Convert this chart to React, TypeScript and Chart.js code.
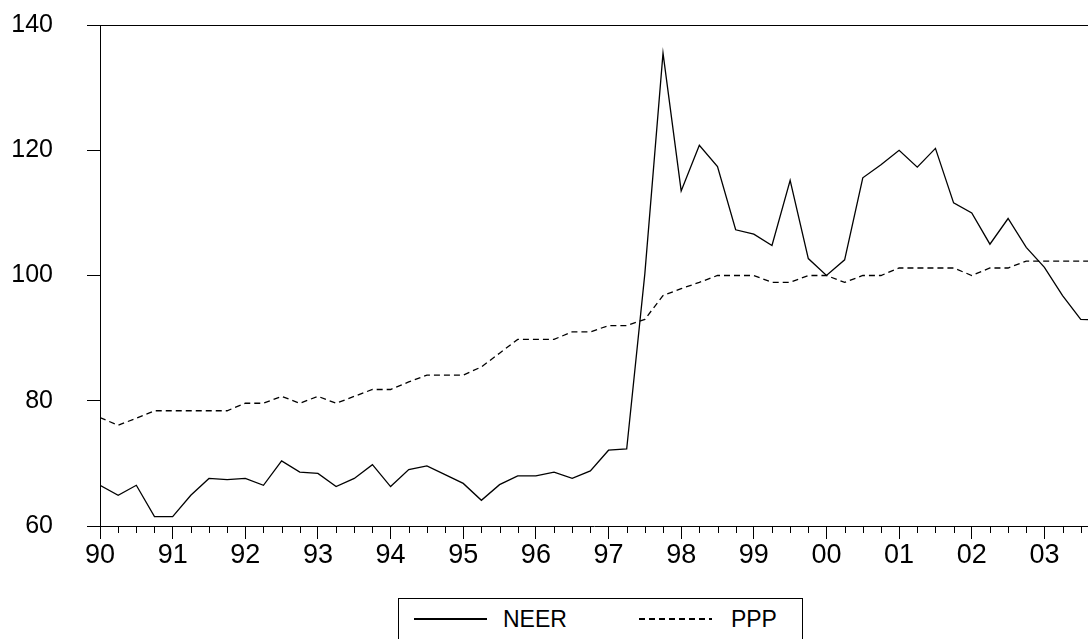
import { Chart, registerables } from "chart.js";
import { useEffect, useRef } from "react";

Chart.register(...registerables);

// quarterly, 1990Q1 .. 2003Q4
const yearLabels = ["90", "91", "92", "93", "94", "95", "96", "97", "98", "99", "00", "01", "02", "03"];
const neer = [
  66.5, 64.9, 66.5, 61.5, 61.5, 64.9, 67.6, 67.4, 67.6, 66.5, 70.4, 68.6, 68.4, 66.3,
  67.6, 69.8, 66.3, 69.0, 69.6, 68.2, 66.8, 64.1, 66.6, 68.0, 68.0, 68.6, 67.6, 68.8,
  72.1, 72.3, 100.3, 135.5, 113.5, 120.8, 117.4, 107.3, 106.6, 104.8, 115.2, 102.7,
  100.0, 102.5, 115.6, 117.7, 120.0, 117.3, 120.3, 111.6, 110.0, 105.0, 109.1, 104.5,
  101.3, 96.8, 93.0, 92.9,
];
const ppp = [
  77.3, 76.1, 77.2, 78.4, 78.4, 78.4, 78.4, 78.4, 79.6, 79.6, 80.7, 79.6, 80.7, 79.6,
  80.7, 81.8, 81.8, 83.0, 84.1, 84.1, 84.1, 85.4, 87.6, 89.8, 89.8, 89.8, 91.0, 91.0,
  92.0, 92.0, 93.0, 96.8, 97.9, 98.9, 100.0, 100.0, 100.0, 98.9, 98.9, 100.0, 100.0,
  98.9, 100.0, 100.0, 101.2, 101.2, 101.2, 101.2, 100.0, 101.2, 101.2, 102.3, 102.3,
  102.3, 102.3, 102.3,
];

const family = "Arial, 'Liberation Sans', sans-serif";

const frame = {
  id: "frame",
  afterDraw(chart: Chart) {
    const { ctx, chartArea } = chart;
    const x = chart.scales.x;
    ctx.save();
    ctx.strokeStyle = "#000";
    ctx.lineWidth = 1;
    ctx.beginPath();
    ctx.moveTo(chartArea.left, chartArea.top + 0.5);
    ctx.lineTo(chartArea.right, chartArea.top + 0.5);
    for (let q = 0; q < neer.length; q++) {
      if (q % 4 === 0) continue;
      const px = Math.round(x.getPixelForValue(q)) + 0.5;
      if (px > chartArea.right) break;
      ctx.moveTo(px, chartArea.bottom);
      ctx.lineTo(px, chartArea.bottom + 7);
    }
    ctx.stroke();
    ctx.restore();
  },
};

export default function App() {
  const ref = useRef<HTMLCanvasElement | null>(null);

  useEffect(() => {
    if (!ref.current) return;
    const chart = new Chart(ref.current, {
      type: "line",
      data: {
        datasets: [
          {
            label: "NEER",
            data: neer.map((v, i) => ({ x: i, y: v })),
            borderColor: "#000",
            borderWidth: 1.3,
            pointRadius: 0,
          },
          {
            label: "PPP",
            data: ppp.map((v, i) => ({ x: i, y: v })),
            borderColor: "#000",
            borderWidth: 1.3,
            borderDash: [6, 4],
            pointRadius: 0,
          },
        ],
      },
      options: {
        animation: false,
        responsive: false,
        layout: { padding: 0 },
        plugins: { legend: { display: false }, tooltip: { enabled: false } },
        scales: {
          x: {
            type: "linear",
            min: 0,
            max: 54.4,
            afterFit: (s) => {
              s.height = 64;
            },
            afterBuildTicks: (s) => {
              s.ticks = yearLabels.map((_, i) => ({ value: i * 4 }));
            },
            grid: { drawOnChartArea: false, tickLength: 13, tickColor: "#000" },
            border: { color: "#000" },
            ticks: {
              color: "#000",
              font: { family, size: 27 },
              padding: 0,
              maxRotation: 0,
              autoSkip: false,
              callback: (v) => yearLabels[Number(v) / 4] ?? "",
            },
          },
          y: {
            min: 60,
            max: 140,
            afterFit: (s) => {
              s.width = 100;
            },
            grid: { drawOnChartArea: false, tickLength: 13, tickColor: "#000" },
            border: { color: "#000" },
            ticks: { color: "#000", font: { family, size: 25 }, stepSize: 20, padding: 34 },
          },
        },
      },
      plugins: [frame],
    });
    return () => chart.destroy();
  }, []);

  const dash = "repeating-linear-gradient(to right, #000 0 6px, transparent 6px 10px)";

  return (
    <div style={{ position: "fixed", left: 0, top: 0, width: 1088, height: 639, background: "#fff", fontFamily: family, overflow: "hidden" }}>
      <canvas ref={ref} width={1088} height={614} style={{ display: "block", position: "absolute", left: 0, top: -24 }} />
      <div
        style={{
          position: "absolute",
          left: 398,
          top: 598,
          width: 405,
          height: 42,
          border: "1px solid #000",
          boxSizing: "border-box",
          display: "flex",
          alignItems: "center",
          fontSize: 23,
        }}
      >
        <div style={{ marginLeft: 15, width: 73, height: 1.3, background: "#000" }} />
        <span style={{ marginLeft: 16 }}>NEER</span>
        <div style={{ marginLeft: 72, width: 73, height: 1.3, background: dash }} />
        <span style={{ marginLeft: 19 }}>PPP</span>
      </div>
    </div>
  );
}
